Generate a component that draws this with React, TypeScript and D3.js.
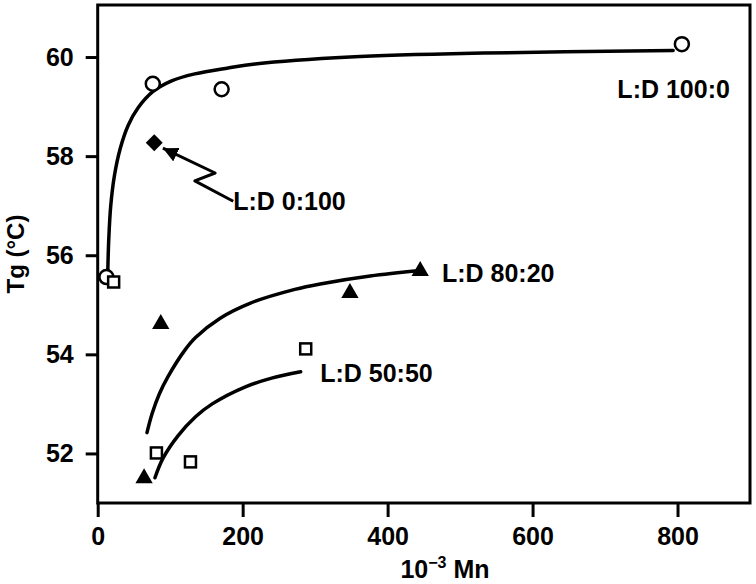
import { useEffect, useRef } from "react";
import * as d3 from "d3";

// measured points (10^-3 Mn, Tg)
const ld100_0 = [[12, 55.56], [76, 59.46], [171, 59.35], [806, 60.26]];
const ld50_50 = [[22, 55.46], [81, 52.01], [128, 51.83], [287, 54.11]];
const ld80_20 = [[64, 51.5], [87, 54.61], [348, 55.24], [445, 55.68]];
const ld0_100 = [[78, 58.27]];

// fitted curves
const fit100_0 = [
  [13.8, 55.6], [15.2, 56.3], [18, 57.0], [23, 57.6], [31, 58.15], [42, 58.62],
  [56, 58.98], [76, 59.3], [102, 59.52], [134, 59.66], [180, 59.78], [217, 59.86],
  [348, 60.0], [532, 60.08], [794, 60.13],
];
const fit80_20 = [
  [68, 52.42], [75, 52.8], [85, 53.2], [97, 53.55], [120, 54.08], [135, 54.34], [169, 54.73],
  [210, 55.03], [272, 55.31], [307, 55.42], [376, 55.58], [445, 55.69],
];
const fit50_50 = [
  [79, 51.51], [90, 51.9], [111, 52.36], [135, 52.74], [158, 53.0], [203, 53.34], [240, 53.52], [280, 53.65],
];

// arrow from label "L:D 0:100" to its point
const arrowPath = [[187, 57.09], [134, 57.5], [162, 57.66], [90, 58.16]];

const xTicks = [0, 200, 400, 600, 800];
const yTicks = [52, 54, 56, 58, 60];

const labels = [
  { text: "L:D 100:0", x: 717, y: 59.17 },
  { text: "L:D 0:100", x: 187, y: 56.91 },
  { text: "L:D 80:20", x: 475, y: 55.46 },
  { text: "L:D 50:50", x: 307, y: 53.44 },
];

const W = 756;
const H = 584;
const FONT = "'Liberation Sans', Arial, sans-serif";

export default function App() {
  const svgRef = useRef(null);

  useEffect(() => {
    if (!svgRef.current) return;
    const svg = d3.select(svgRef.current);
    svg.selectAll("*").remove();

    const left = 97.7, right = 750, top = 5, bottom = 503;
    const x = d3.scaleLinear([0, 900], [left, right]);
    const y = d3.scaleLinear([51, 61.05], [bottom, top]);

    svg.append("rect").attr("width", W).attr("height", H).attr("fill", "white");

    // x axis
    const gx = svg.append("g")
      .attr("transform", `translate(0,${bottom})`)
      .call(d3.axisBottom(x).tickValues(xTicks).tickSize(14).tickPadding(10).tickSizeOuter(0));
    gx.select(".domain").remove();

    // y axis
    const gy = svg.append("g")
      .attr("transform", `translate(${left},0)`)
      .call(d3.axisLeft(y).tickValues(yTicks).tickSize(12).tickPadding(12).tickSizeOuter(0));
    gy.select(".domain").remove();

    svg.selectAll(".tick line").attr("stroke", "black").attr("stroke-width", 3);
    svg.selectAll(".tick text")
      .attr("fill", "black")
      .style("font-family", FONT)
      .style("font-size", "25px")
      .style("font-weight", "bold");

    // frame
    svg.append("rect")
      .attr("x", left).attr("y", top)
      .attr("width", right - left).attr("height", bottom - top)
      .attr("fill", "none").attr("stroke", "black").attr("stroke-width", 3);

    // axis titles
    svg.append("text")
      .attr("transform", `translate(24,${(top + bottom) / 2}) rotate(-90)`)
      .attr("text-anchor", "middle")
      .style("font-family", FONT).style("font-size", "24px").style("font-weight", "bold")
      .text("Tg (°C)");

    const xt = svg.append("text")
      .attr("x", 445).attr("y", 578)
      .attr("text-anchor", "middle")
      .style("font-family", FONT).style("font-size", "25px").style("font-weight", "bold");
    xt.append("tspan").text("10");
    xt.append("tspan").attr("dy", -10).style("font-size", "16px").text("−3");
    xt.append("tspan").attr("dy", 10).text(" Mn");

    // fitted curves
    const line = d3.line().x((d) => x(d[0])).y((d) => y(d[1])).curve(d3.curveCatmullRom.alpha(0.5));
    [fit100_0, fit80_20, fit50_50].forEach((c) => {
      svg.append("path")
        .attr("d", line(c))
        .attr("fill", "none").attr("stroke", "black")
        .attr("stroke-width", 3.5).attr("stroke-linecap", "round");
    });

    // arrow
    svg.append("defs").append("marker")
      .attr("id", "arrowHead")
      .attr("viewBox", "0 0 10 10")
      .attr("refX", 10).attr("refY", 5)
      .attr("markerWidth", 5).attr("markerHeight", 5)
      .attr("markerUnits", "strokeWidth")
      .attr("orient", "auto")
      .append("path").attr("d", "M0,0 L10,5 L0,10 z").attr("fill", "black");

    const straight = d3.line().x((d) => x(d[0])).y((d) => y(d[1]));
    svg.append("path")
      .attr("d", straight(arrowPath))
      .attr("fill", "none").attr("stroke", "black").attr("stroke-width", 3)
      .attr("stroke-linejoin", "round")
      .attr("marker-end", "url(#arrowHead)");

    // markers
    svg.append("g").selectAll("circle")
      .data(ld100_0).join("circle")
      .attr("cx", (d) => x(d[0])).attr("cy", (d) => y(d[1])).attr("r", 7)
      .attr("fill", "white").attr("stroke", "black").attr("stroke-width", 2.5);

    svg.append("g").selectAll("rect")
      .data(ld50_50).join("rect")
      .attr("x", (d) => x(d[0]) - 5.5).attr("y", (d) => y(d[1]) - 5.5)
      .attr("width", 11).attr("height", 11)
      .attr("fill", "white").attr("stroke", "black").attr("stroke-width", 2.5);

    svg.append("g").selectAll("path")
      .data(ld80_20).join("path")
      .attr("transform", (d) => `translate(${x(d[0])},${y(d[1])})`)
      .attr("d", d3.symbol(d3.symbolTriangle, 130)())
      .attr("fill", "black");

    svg.append("g").selectAll("path")
      .data(ld0_100).join("path")
      .attr("transform", (d) => `translate(${x(d[0])},${y(d[1])}) rotate(45)`)
      .attr("d", d3.symbol(d3.symbolSquare, 144)())
      .attr("fill", "black");

    // series labels
    svg.append("g").selectAll("text")
      .data(labels).join("text")
      .attr("x", (d) => x(d.x)).attr("y", (d) => y(d.y))
      .style("font-family", FONT).style("font-size", "25px").style("font-weight", "bold")
      .text((d) => d.text);
  }, []);

  return (
    <svg
      ref={svgRef}
      width={W}
      height={H}
      style={{ position: "absolute", left: 0, top: 0, display: "block" }}
    ></svg>
  );
}
